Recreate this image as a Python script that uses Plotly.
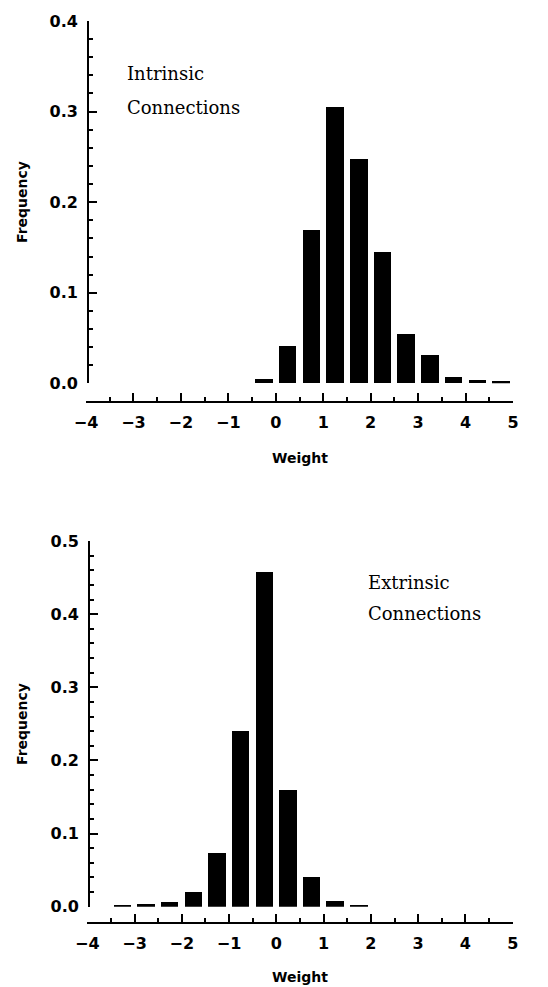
import plotly.graph_objects as go

# ---- data ----
intrinsic_centers = [-0.25, 0.25, 0.75, 1.25, 1.75, 2.25, 2.75, 3.25, 3.75, 4.25, 4.75]
intrinsic_freq = [0.005, 0.041, 0.169, 0.305, 0.248, 0.145, 0.054, 0.031, 0.007, 0.004, 0.002]

extrinsic_centers = [-3.25, -2.75, -2.25, -1.75, -1.25, -0.75, -0.25, 0.25, 0.75, 1.25, 1.75]
extrinsic_freq = [0.0015, 0.004, 0.006, 0.020, 0.073, 0.240, 0.457, 0.159, 0.041, 0.008, 0.002]

x_ticks = [-4, -3, -2, -1, 0, 1, 2, 3, 4, 5]
top_y_ticks = [0.0, 0.1, 0.2, 0.3, 0.4]
bot_y_ticks = [0.0, 0.1, 0.2, 0.3, 0.4, 0.5]

OFF = 8  # default page body margin
W, H = 548 - OFF, 987 - OFF
BAR_W = 0.37
SANS = "DejaVu Sans"
SERIF = "DejaVu Serif"


def px(x):
    return (x - OFF) / W


def py(y):
    return 1 - (y - OFF) / H


fig = go.Figure()
fig.add_trace(go.Bar(x=intrinsic_centers, y=intrinsic_freq, width=BAR_W,
                     marker=dict(color="black", line=dict(width=0)),
                     xaxis="x", yaxis="y", showlegend=False))
fig.add_trace(go.Bar(x=extrinsic_centers, y=extrinsic_freq, width=BAR_W,
                     marker=dict(color="black", line=dict(width=0)),
                     xaxis="x2", yaxis="y2", showlegend=False))

tickfont = dict(family=SANS, size=16, color="black", weight="bold")

def xax(dom, pos):
    return dict(domain=dom, anchor="free", position=pos, range=[-4, 5],
                tickvals=x_ticks, ticktext=[("\u2212" + str(-v)) if v < 0 else str(v) for v in x_ticks],
                ticks="inside", ticklen=8, tickwidth=1.5, tickcolor="black",
                minor=dict(ticks="inside", ticklen=4, tickwidth=1.5, tickcolor="black", dtick=0.5, tick0=0),
                showline=True, linecolor="black", linewidth=1.8,
                showgrid=False, zeroline=False, automargin=False,
                tickfont=tickfont, ticklabelstandoff=6)

def yax(dom, pos, rng, vals):
    return dict(domain=dom, anchor="free", position=pos, range=rng,
                tickvals=vals, ticktext=[f"{v:.1f}" for v in vals],
                ticks="inside", ticklen=8, tickwidth=1.5, tickcolor="black",
                minor=dict(ticks="inside", ticklen=4, tickwidth=1.5, tickcolor="black", dtick=0.02, tick0=0),
                showline=True, linecolor="black", linewidth=1.8,
                showgrid=False, zeroline=False, automargin=False,
                tickfont=tickfont, ticklabelstandoff=6)

annots = []
def label(text, x, y, family, size, angle=0, xanchor="left", bold=False):
    annots.append(dict(text=text, x=px(x), y=py(y), xref="paper", yref="paper",
                       xanchor=xanchor, yanchor="middle", showarrow=False, textangle=angle,
                       font=dict(family=family, size=size, color="black",
                                 weight="bold" if bold else "normal")))

label("Intrinsic", 125, 74, SERIF, 18)
label("Connections", 125, 107, SERIF, 18)
label("Extrinsic", 366, 582, SERIF, 18)
label("Connections", 366, 613, SERIF, 18)
label("Frequency", 22, 202, SANS, 14, angle=-90, xanchor="center", bold=True)
label("Frequency", 22, 724, SANS, 14, angle=-90, xanchor="center", bold=True)
label("Weight", 300, 458, SANS, 14, xanchor="center", bold=True)
label("Weight", 300, 977, SANS, 14, xanchor="center", bold=True)

fig.update_layout(
    width=W, height=H, margin=dict(l=0, r=0, t=0, b=0),
    paper_bgcolor="white", plot_bgcolor="white",
    xaxis=xax([px(86), px(513)], py(402)),
    yaxis=yax([py(383.3), py(21)], px(88), [0, 0.4], top_y_ticks),
    xaxis2=xax([px(87.3), px(512.7)], py(923.3)),
    yaxis2=yax([py(906.7), py(541)], px(89), [0, 0.5], bot_y_ticks),
    annotations=annots,
    bargap=0,
)

fig.write_html("out.html")
